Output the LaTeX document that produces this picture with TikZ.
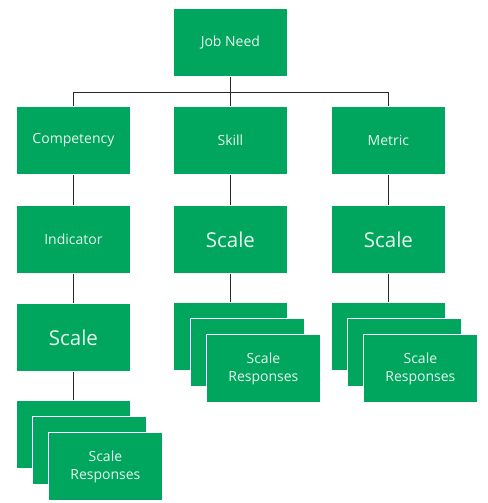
\documentclass[tikz,border=0pt]{standalone}
\usepackage{fontspec}
\setmainfont{Open Sans}
\definecolor{boxgreen}{RGB}{0,166,93}
\definecolor{boxtext}{RGB}{232,246,238}
\definecolor{linec}{RGB}{40,40,40}
\begin{document}
\begin{tikzpicture}[x=1pt,y=-1pt,
  gbox/.style={draw=white,line width=0.8pt,fill=boxgreen,minimum width=114pt,minimum height=68pt,inner sep=0pt,text=boxtext,font=\fontsize{14}{18}\selectfont,align=center,anchor=north west},
  bigbox/.style={gbox,font=\fontsize{20.5}{22}\selectfont},
  conn/.style={draw=linec,line width=1pt}]
\useasboundingbox (0,0) rectangle (487,503);
% row 1
\node[gbox] (job) at (173,8) {Job Need};
% row 2
\node[gbox] (comp) at (16,106) {Competency};
\node[gbox] (skill) at (173,106) {Skill};
\node[gbox] (metric) at (331,106) {Metric};
% row 3
\node[gbox] (ind) at (16,205) {Indicator};
\node[bigbox] (sscale) at (173,205) {Scale};
\node[bigbox] (mscale) at (331,205) {Scale};
% row 4
\node[bigbox] (cscale) at (16,303) {Scale};
% stacks
\node[gbox] (c1) at (16,400) {};
\node[gbox] (c2) at (32,416) {};
\node[gbox] (c3) at (48,432) {Scale\\Responses};
\node[gbox] (s1) at (173,302) {};
\node[gbox] (s2) at (190,318) {};
\node[gbox] (s3) at (206,334) {Scale\\Responses};
\node[gbox] (m1) at (331,302) {};
\node[gbox] (m2) at (347,318) {};
\node[gbox] (m3) at (363,334) {Scale\\Responses};
% connectors
\coordinate (bus) at (0,92);
\draw[conn] (job.south) -- (job.south |- bus);
\draw[conn] (comp.north |- bus) -- (metric.north |- bus);
\draw[conn] (comp.north |- bus) -- (comp.north);
\draw[conn] (skill.north |- bus) -- (skill.north);
\draw[conn] (metric.north |- bus) -- (metric.north);
\draw[conn] (comp.south) -- (ind.north);
\draw[conn] (ind.south) -- (cscale.north);
\draw[conn] (cscale.south) -- (c1.north);
\draw[conn] (skill.south) -- (sscale.north);
\draw[conn] (sscale.south) -- (s1.north);
\draw[conn] (metric.south) -- (mscale.north);
\draw[conn] (mscale.south) -- (m1.north);
\end{tikzpicture}
\end{document}
